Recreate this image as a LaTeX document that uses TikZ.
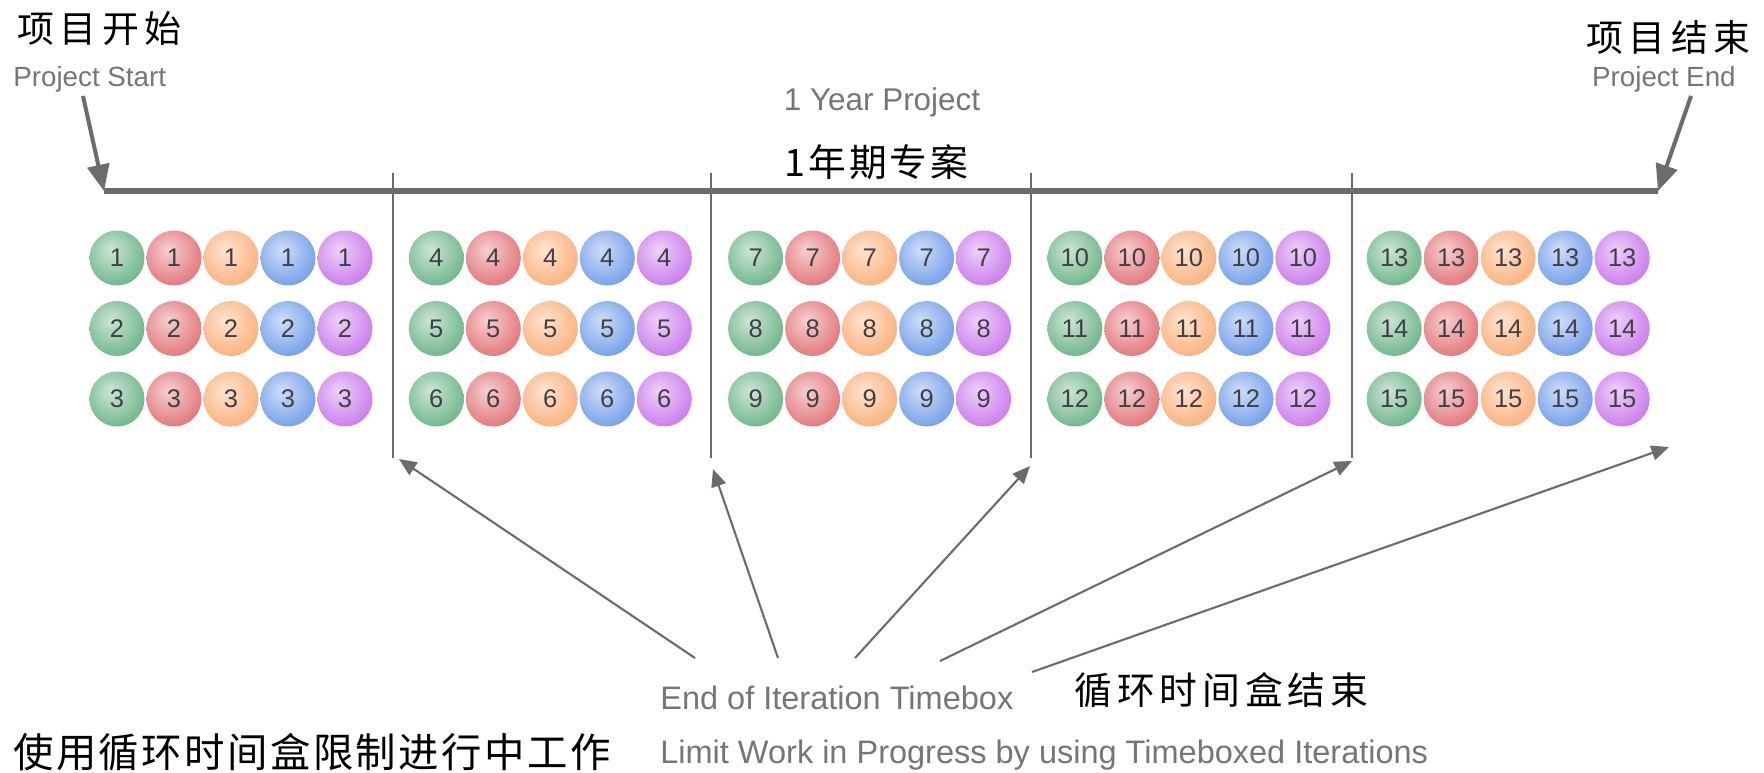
\documentclass[tikz,border=0pt]{standalone}
\usepackage{fontspec}
\setmainfont{Liberation Sans}
\newfontfamily\cjk{Noto Sans CJK SC}
\usetikzlibrary{arrows.meta}

\definecolor{linegray}{RGB}{108,108,108}
\definecolor{textgray}{RGB}{118,118,118}
\definecolor{numgray}{RGB}{64,64,70}
\definecolor{ballgreen}{RGB}{86,170,118}
\definecolor{ballred}{RGB}{222,96,100}
\definecolor{ballorange}{RGB}{250,164,102}
\definecolor{ballblue}{RGB}{94,144,230}
\definecolor{ballpurple}{RGB}{194,102,232}
\colorlet{ballc}{ballgreen}

% shading that follows the current value of ballc
\pgfdeclareradialshading[ballc]{ballshade}{\pgfpoint{-6bp}{8bp}}{%
  color(0bp)=(ballc!30!white); color(14bp)=(ballc!55!white);
  color(34bp)=(ballc!92!white); color(48bp)=(ballc); color(64bp)=(ballc!85!black)}

\tikzset{
  enlbl/.style={inner sep=0pt, text=textgray},
  cjklbl/.style={inner sep=0pt, text=black, anchor=west},
  ball/.style={circle, inner sep=0pt, minimum size=1.1cm, shading=ballshade,
    text=numgray, font=\fontsize{14.5}{15}\selectfont},
  timeline/.style={draw=linegray, line width=3.4pt},
  divider/.style={draw=linegray, line width=1.1pt},
  bigarrow/.style={draw=linegray, line width=2.3pt, -{Triangle[length=15pt,width=12.5pt]}},
  thinarrow/.style={draw=linegray, line width=1.2pt, -{Triangle[length=10pt,width=8.5pt]}}
}

\begin{document}
\begin{tikzpicture}[x=0.02cm,y=-0.02cm]
\useasboundingbox[fill=white] (0,0) rectangle (1764,772);

% labels at the top
\node[cjklbl, font=\cjk\fontsize{21}{24}\selectfont\addfontfeature{LetterSpace=15}] (startcn) at (17,29) {项目开始};
\node[enlbl, anchor=base west, font=\fontsize{15.8}{18}\selectfont] (start) at (13,86) {Project Start};
\node[cjklbl, font=\cjk\fontsize{21}{24}\selectfont\addfontfeature{LetterSpace=15}] (endcn) at (1586,37) {项目结束};
\node[enlbl, anchor=base east, font=\fontsize{15.8}{18}\selectfont] (end) at (1736,86) {Project End};
\node[enlbl, anchor=base, font=\fontsize{17.9}{20}\selectfont] (year) at (882,110) {1 Year Project};
\node[cjklbl, font=\cjk\fontsize{21.5}{24}\selectfont\addfontfeature{LetterSpace=8}] (yearcn) at (784,162) {1年期专案};

% time line
\coordinate (ps) at (104,191);
\coordinate (pe) at (1658,191);
\coordinate (pstail) at (83,96);
\coordinate (petail) at (1691,96);
\draw[timeline] (ps) -- (pe);
\draw[bigarrow] (pstail) -- (ps);
\draw[bigarrow] (petail) -- (pe);

% iteration boundaries
\foreach \x [count=\i] in {393,711,1031,1352}
  \draw[divider] (\x,173) -- (\x,458) coordinate (div\i);

% work items
\foreach \g in {0,...,4}
  \foreach \r in {0,1,2}
    \foreach \c/\col in {0/ballgreen,1/ballred,2/ballorange,3/ballblue,4/ballpurple}{
      \pgfmathtruncatemacro\n{3*\g+\r+1}
      \colorlet{ballc}{\col}
      \node[ball] (b\n-\c) at ({117+319.3*\g+57*\c},{258+70.5*\r}) {\n};
    }

% labels at the bottom
\node[enlbl, anchor=base west, font=\fontsize{18.5}{21}\selectfont] (timebox) at (660,709) {End of Iteration Timebox};
\node[cjklbl, font=\cjk\fontsize{21.5}{24}\selectfont\addfontfeature{LetterSpace=13}] (timeboxcn) at (1074,690) {循环时间盒结束};
\node[enlbl, anchor=base west, font=\fontsize{18.5}{21}\selectfont] (limit) at (660,763) {Limit Work in Progress by using Timeboxed Iterations};
\node[cjklbl, font=\cjk\fontsize{23}{26}\selectfont\addfontfeature{LetterSpace=6}] (limitcn) at (13,752) {使用循环时间盒限制进行中工作};

% arrows to the end of each timebox
\coordinate (t1) at (695,658);  \coordinate (h1) at (399,459);
\coordinate (t2) at (778,658);  \coordinate (h2) at (713,469);
\coordinate (t3) at (855,658);  \coordinate (h3) at (1030,466);
\coordinate (t4) at (940,661);  \coordinate (h4) at (1352,461);
\coordinate (t5) at (1032,672); \coordinate (h5) at (1669,447);
\foreach \i in {1,...,5}
  \draw[thinarrow] (t\i) -- (h\i);
\end{tikzpicture}
\end{document}
